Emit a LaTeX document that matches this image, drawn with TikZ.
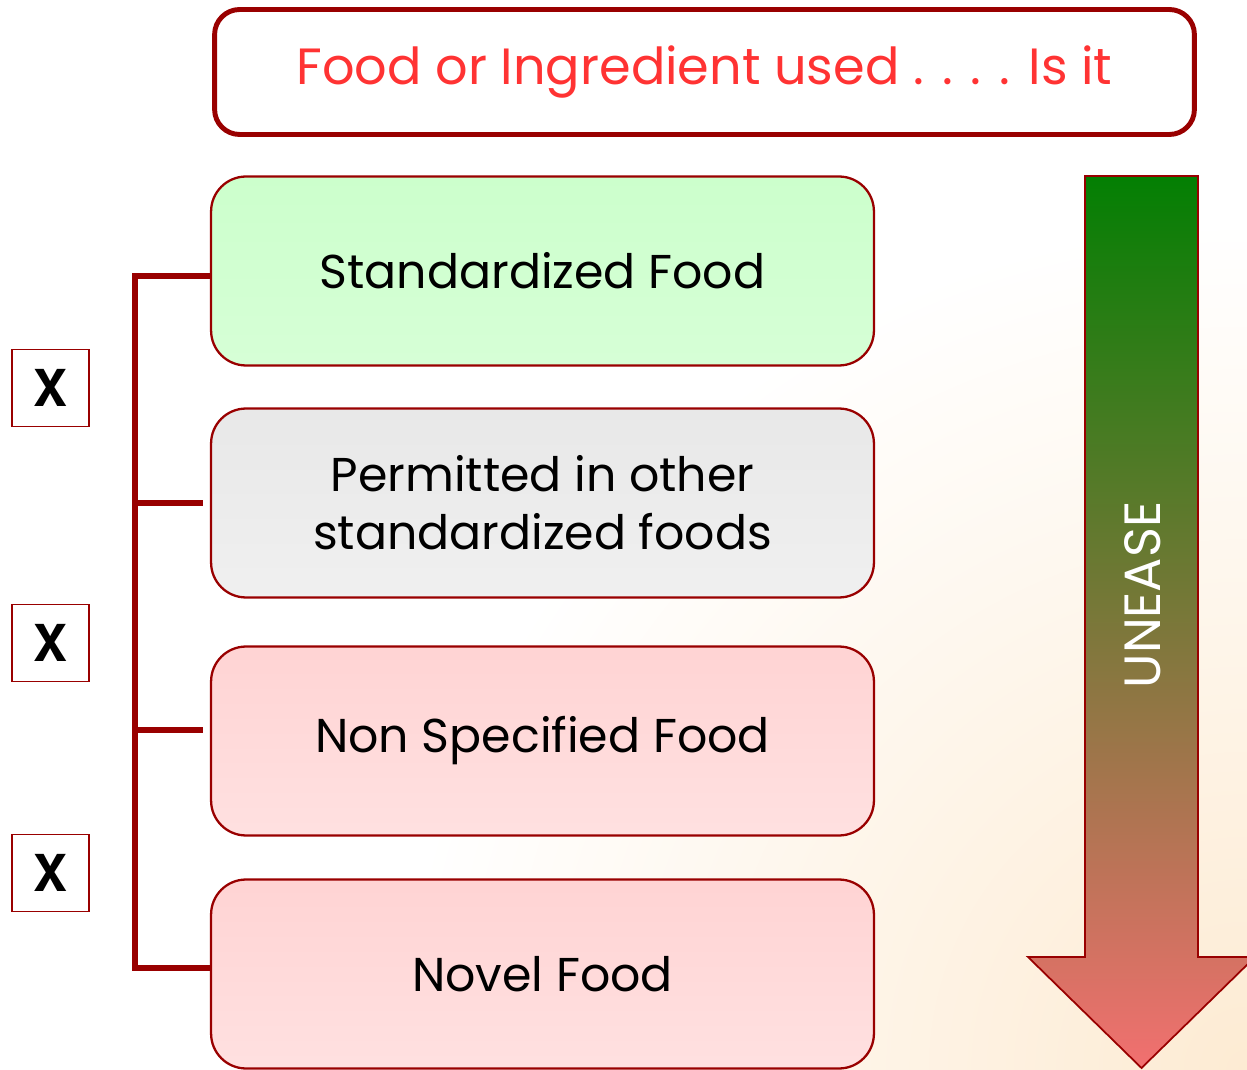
\documentclass[tikz,border=0pt]{standalone}
\usepackage{fontspec}
\setmainfont{Poppins}
\newfontfamily\crossfont{TeX Gyre Heros}
\usepackage{tikz}
\tikzset{>=latex}
\usetikzlibrary{calc}
\definecolor{frame red}{HTML}{990000}
\definecolor{title red}{HTML}{FF3333}
\definecolor{ease green}{HTML}{037F03}
\definecolor{unease olive}{HTML}{807A3C}
\definecolor{unease red}{HTML}{F27070}
\definecolor{back cream}{HTML}{FDEBD3}
\tikzset{
  food box/.style={draw=frame red, line width=1.3pt, rounded corners=0.7cm,
    minimum width=13.26cm, minimum height=3.78cm, align=center,
    font=\fontsize{27}{33}\selectfont},
  cross box/.style={draw=frame red, line width=1pt, minimum size=1.54cm,
    font=\crossfont\bfseries\fontsize{29}{29}\selectfont},
  bracket/.style={frame red, line width=3.2pt},
}

\begin{document}
\begin{tikzpicture}[x=0.02cm, y=-0.02cm]
  \useasboundingbox (0,0) rectangle (1247,1070);
  \shade[inner color=back cream, outer color=white] (1247,1070) circle [radius=850];

  \node[draw=frame red, line width=2.8pt, rounded corners=0.5cm, minimum width=19.6cm,
    minimum height=2.5cm, text=title red, font=\fontsize{29}{29}\selectfont]
    (title) at (704.5,72) {Food or Ingredient used . . . . Is it};

  \node[food box, top color=green!20, bottom color=green!16] (std) at (542.5,271) {Standardized Food};
  \node[food box, top color=black!9, bottom color=black!6] (perm) at (542.5,503) {Permitted in other\\standardized foods};
  \node[food box, top color=red!17, bottom color=red!12] (nonspec) at (542.5,741) {Non Specified Food};
  \node[food box, top color=red!17, bottom color=red!12] (novel) at (542.5,974) {Novel Food};

  \foreach \y [count=\i] in {388, 643, 873} {
    \node[cross box] (x\i) at (50.5,\y) {X};
  }

  \coordinate (std out) at ($(std.west)+(0,5)$);
  \coordinate (perm in) at ($(perm.west)+(-7,0)$);
  \coordinate (nonspec in) at ($(nonspec.west)+(-7,-11)$);
  \coordinate (novel in) at ($(novel.west)+(0,-6)$);
  \draw[bracket] (std out) -- ++(-75,0) |- (perm in);
  \draw[bracket] (perm in) -- ++(-68,0) |- (nonspec in);
  \draw[bracket] (nonspec in) -- ++(-68,0) |- (novel in);

  \shadedraw[draw=frame red, line width=1pt, top color=ease green, middle color=unease olive,
    bottom color=unease red] (1085,176) -- (1198,176) -- (1198,957) -- (1255,957)
    -- (1141.5,1068) -- (1028,957) -- (1085,957) -- cycle;
  \node[rotate=90, text=white, font=\fontsize{29}{29}\selectfont] (unease) at (1143,595) {UNEASE};
\end{tikzpicture}
\end{document}
